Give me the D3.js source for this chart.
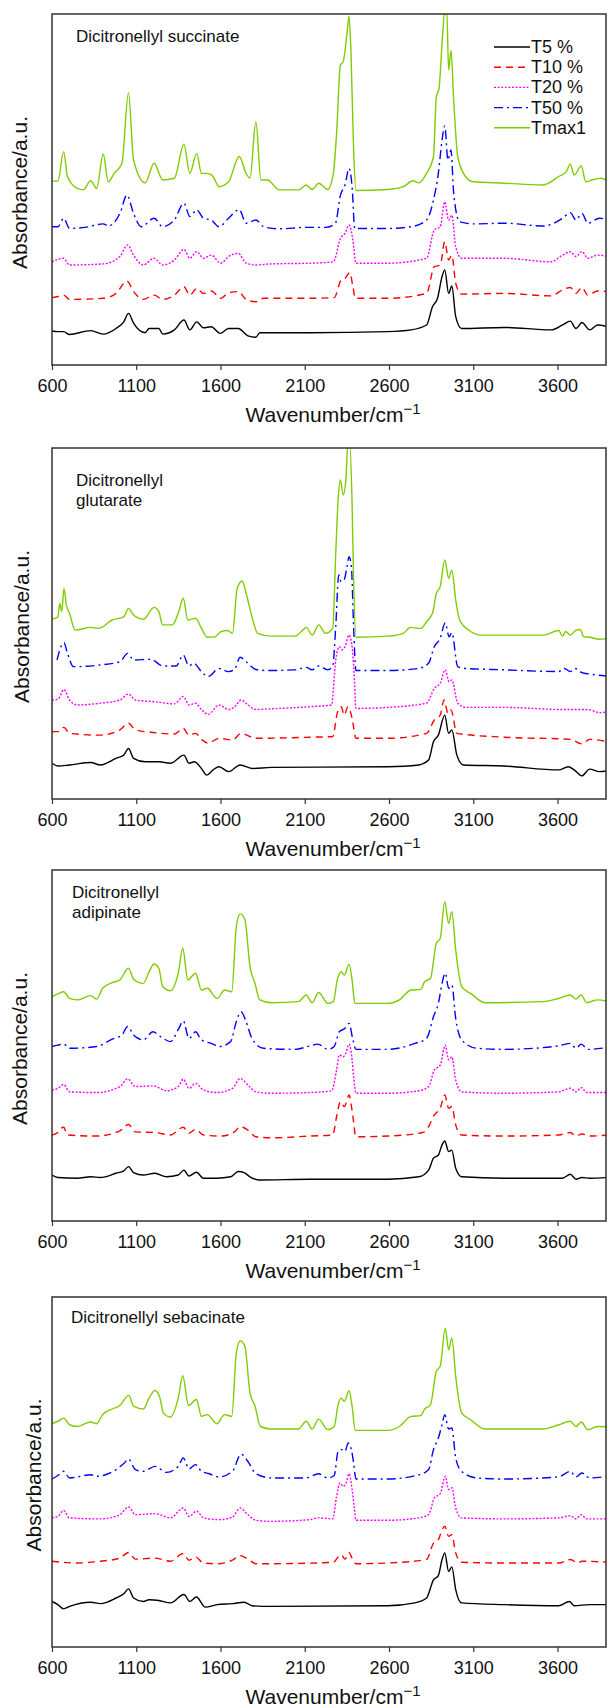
<!DOCTYPE html>
<html>
<head>
<meta charset="utf-8">
<script src="https://cdn.jsdelivr.net/npm/d3@7"></script>
<style>
  body { margin: 0; background: #fff; }
  svg { display: block; font-family: "Liberation Sans", Arial, sans-serif; }
</style>
</head>
<body>
<div id="chart"></div>
<script>
let WIDTH = 608
let HEIGHT = 1707

// categories and labels
let seriesNames = ['T5 %', 'T10 %', 'T20 %', 'T50 %', 'Tmax1']
let panelNames = [
    ['Dicitronellyl succinate'],
    ['Dicitronellyl', 'glutarate'],
    ['Dicitronellyl', 'adipinate'],
    ['Dicitronellyl sebacinate']
]
let xTicks = [600, 1100, 1600, 2100, 2600, 3100, 3600]

// spectra: [wavenumber, absorbance (a.u., offset)]
let succT5 = [[600,9.7],[635,9.5],[669,9.5],[704,8.7],[830,9.8],[904,8.8],[980,10.4],[1026,12.3],[1054,14.7],[1084,11.9],[1153,9.2],[1176,10.4],[1234,10.4],[1257,8.8],[1326,10],[1383,12.8],[1418,10],[1459,12.3],[1499,10.6],[1545,10.9],[1598,9],[1648,10.4],[1706,10.4],[1763,8.3],[1810,7.9],[1833,9.2],[2132,9.2],[2593,9.5],[2731,10],[2823,11.4],[2858,16.6],[2888,19],[2915,25.2],[2931,27.1],[2954,20.4],[2973,22.5],[2996,13.8],[3031,10.4],[3284,10.7],[3561,10],[3630,11.4],[3676,12.5],[3710,10.4],[3745,12.1],[3791,10],[3838,11.4],[3902,10.9]]
let succT10 = [[600,19.2],[635,19.5],[669,19.9],[704,18.7],[904,19],[980,20.4],[1045,23.9],[1084,20.9],[1142,18.7],[1206,19.9],[1257,18.7],[1326,19.9],[1383,22.3],[1418,19.9],[1459,21.8],[1499,20.4],[1545,21.1],[1602,19],[1648,20.6],[1706,20.9],[1752,18.7],[1810,18],[1856,19],[2132,19],[2275,19.2],[2316,24.2],[2339,24.7],[2367,26.3],[2386,22.3],[2400,19],[2593,19],[2823,20.4],[2869,28],[2904,28.5],[2931,35.1],[2954,29.9],[2973,31.3],[2996,23.3],[3031,20.2],[3284,20.4],[3561,19.7],[3630,21.4],[3676,22.1],[3710,20.4],[3745,22.1],[3780,19.9],[3838,21.1],[3902,20.9]]
let succT20 = [[600,29.4],[669,30.4],[704,28.5],[904,28.8],[1003,30.9],[1049,34.2],[1084,31.3],[1142,28.5],[1206,30.4],[1257,28.5],[1326,29.9],[1383,32.9],[1418,30.4],[1459,32.3],[1499,30.4],[1545,31.3],[1602,29],[1648,30.9],[1706,31.8],[1752,29],[1810,28.5],[1902,28.8],[2132,29],[2270,29.4],[2312,36.1],[2339,37.5],[2363,39.9],[2386,35.6],[2404,29],[2593,29],[2823,30.4],[2869,38.5],[2904,39.4],[2931,46.5],[2954,41.3],[2973,42.7],[2996,33.7],[3031,30.4],[3284,30.4],[3561,29.4],[3630,31.3],[3676,32.3],[3710,30.9],[3745,32.3],[3780,30.4],[3838,31.3],[3902,30.9]]
let succT50 = [[600,39.4],[635,39.4],[669,41.8],[704,38.9],[796,39.2],[904,40.2],[934,39.6],[1003,43.2],[1045,48.4],[1084,43.2],[1130,39.4],[1206,41.8],[1257,39.4],[1326,41.3],[1383,46.1],[1418,42.3],[1459,44.2],[1499,41.8],[1545,41.3],[1591,39.4],[1648,41.8],[1711,44.3],[1752,40.4],[1810,41.3],[1856,39.4],[1948,38.8],[2109,39.2],[2224,39.2],[2282,40.4],[2312,48.4],[2339,51.3],[2363,56],[2381,50.8],[2397,38.9],[2593,38.9],[2731,39.4],[2823,41.3],[2864,47],[2893,54.6],[2915,64.1],[2931,68.1],[2950,58.4],[2968,61.3],[2984,48.9],[3019,40.8],[3100,40.2],[3284,40.4],[3515,39.6],[3630,41.8],[3676,43.4],[3710,41.3],[3745,43.2],[3780,40.4],[3849,41.8],[3902,41.3]]
let succTmax = [[600,52.4],[635,52.4],[669,60.8],[692,53.7],[750,50.3],[785,49.9],[830,52.5],[865,50.3],[904,60.1],[934,52.2],[969,54.6],[1015,57.5],[1054,77.6],[1084,58.4],[1153,51.9],[1206,57.5],[1257,52.7],[1326,53.2],[1383,62.9],[1418,54.6],[1459,60.3],[1487,54.6],[1522,54.6],[1556,53.7],[1591,50.8],[1648,52.2],[1711,59.4],[1752,54.6],[1775,53.2],[1810,69.3],[1840,52.7],[1879,52.7],[1948,49.9],[2063,49.9],[2109,51.3],[2144,50],[2183,51.8],[2236,50],[2270,54.6],[2289,66],[2312,85.5],[2328,86.4],[2351,94.5],[2363,99.4],[2374,89.7],[2390,61.3],[2404,49.7],[2593,50],[2685,50.8],[2743,52.5],[2777,51.9],[2823,54.6],[2864,59.4],[2881,76.4],[2897,78.8],[2915,91.6],[2931,101],[2943,101],[2954,84],[2968,89.7],[2984,75.5],[3008,59.4],[3054,53.7],[3100,52.2],[3284,51.8],[3515,51.3],[3607,53.7],[3653,55.1],[3676,57.3],[3699,54.1],[3741,56.7],[3768,52.2],[3803,52.7],[3861,53.2],[3902,52.2]]

let glutT5 = [[600,10.2],[635,9.4],[704,9.7],[830,10.4],[888,9.7],[980,11.6],[1026,12.5],[1054,14.4],[1084,11.6],[1153,10.6],[1234,10.6],[1303,10.2],[1383,12.5],[1413,10.2],[1445,10.6],[1487,8.7],[1518,6.8],[1556,8.3],[1591,9.2],[1648,7.8],[1717,9.7],[1787,8.7],[1902,9],[2593,9.2],[2777,9.7],[2835,11.1],[2864,16.3],[2893,18.2],[2931,23.9],[2954,18.7],[2973,19.7],[3003,12.5],[3042,9.7],[3284,9.4],[3607,8.3],[3664,9.2],[3699,8.3],[3745,6.6],[3791,8.5],[3849,7.8],[3902,8.1]]
let glutT10 = [[600,19.2],[635,19.2],[671,20.4],[704,18.7],[888,18.2],[1003,19.7],[1054,21.6],[1095,19.7],[1211,18.9],[1326,18.5],[1379,20.1],[1413,18.2],[1452,18.7],[1487,17],[1527,15.9],[1591,17.3],[1671,16.8],[1722,18.7],[1810,17.3],[2132,17.6],[2266,17.8],[2293,24.4],[2316,26.3],[2335,23.9],[2356,26.3],[2381,23],[2404,17.3],[2593,17.3],[2823,18.7],[2869,22.5],[2904,23.9],[2927,28.2],[2950,24.4],[2968,25.4],[3003,18.7],[3284,17.6],[3676,17],[3745,15.7],[3791,17],[3902,16.3]]
let glutT20 = [[600,28.2],[635,28.4],[671,31.2],[704,28.2],[750,26.8],[888,27.3],[1003,28.2],[1054,29.9],[1095,28.2],[1211,27.7],[1326,27.1],[1379,29.2],[1413,26.8],[1452,27.3],[1487,25.5],[1527,24.1],[1591,26.8],[1648,25.5],[1683,26.2],[1722,28.2],[1763,26.8],[1810,25.5],[1902,25.7],[2132,26.3],[2259,26.8],[2284,39.6],[2305,43.4],[2321,42.5],[2339,43.4],[2363,46.7],[2381,43.4],[2393,35.8],[2404,25.8],[2593,26.1],[2823,27.3],[2869,31.5],[2904,33],[2934,36.8],[2957,33.4],[2973,33.9],[3008,27.3],[3054,26.1],[3284,26.1],[3630,25.5],[3745,25.5],[3791,25.4],[3849,24.6],[3902,24.9]]
let glutT50 = [[630,39.6],[653,43.4],[671,44.5],[692,41.5],[727,37.7],[888,38.2],[1003,39.1],[1049,41.5],[1084,39.6],[1188,39.8],[1257,37.9],[1337,37.9],[1379,41],[1413,37.9],[1441,38.7],[1487,36.3],[1527,34.9],[1591,37.2],[1648,36.3],[1683,36.9],[1717,40.4],[1752,39.1],[1810,36.9],[1879,36.6],[2040,36.8],[2109,37.5],[2144,36.8],[2183,37.9],[2236,36.8],[2266,37.9],[2284,49.1],[2302,63.8],[2316,61.9],[2335,62.6],[2351,66.2],[2363,69],[2377,66.2],[2390,49.1],[2404,36.6],[2593,36.6],[2777,37.2],[2835,38.7],[2869,43.4],[2904,45.8],[2934,50.2],[2957,46.2],[2973,47.4],[3008,37.7],[3054,37.2],[3284,36.8],[3607,36.3],[3641,37.2],[3676,36.3],[3704,37.2],[3745,36],[3791,35.6],[3902,35]]
let glutTmax = [[600,51.3],[635,51.8],[646,55.7],[658,53.4],[671,60],[685,55.3],[704,52.9],[738,48.1],[830,48.9],[876,48.6],[957,51],[1026,51.9],[1054,54.3],[1084,52.4],[1142,51.2],[1206,54.6],[1234,53.4],[1257,49.6],[1314,49.6],[1349,52.9],[1379,57.2],[1406,51],[1452,51.5],[1487,48.6],[1522,46.1],[1568,46.2],[1602,47.7],[1644,48],[1671,47.2],[1699,60],[1729,62.1],[1752,58.6],[1787,51.9],[1821,47.2],[1902,46.4],[2040,46.4],[2086,48],[2109,48.9],[2144,46.7],[2183,49.6],[2224,47.2],[2266,48.6],[2284,70],[2298,85.2],[2312,90.9],[2328,86.6],[2344,90.9],[2356,101],[2367,101],[2381,84.2],[2390,62.4],[2404,46.1],[2593,46.4],[2685,47.2],[2727,48.9],[2789,48.6],[2823,50.5],[2858,52.9],[2881,58.6],[2904,60.5],[2931,68.1],[2954,62.9],[2973,65.2],[2996,56.7],[3019,51],[3077,48],[3146,46.7],[3515,46.7],[3607,48],[3630,46.4],[3649,47.7],[3676,46.7],[3710,48.1],[3734,48.3],[3757,46.2],[3791,46.1],[3849,45.5],[3902,45.8]]

let adipT5 = [[600,13.1],[635,12.4],[750,12.2],[830,12.6],[888,12.4],[980,13.6],[1026,14.3],[1054,15.5],[1084,13.8],[1142,13.1],[1211,13.6],[1280,12.6],[1349,13.1],[1383,14.5],[1413,12.8],[1457,13.9],[1499,12.2],[1579,12.2],[1660,12.6],[1706,14.1],[1740,13.8],[1775,12.6],[1833,11.7],[2132,11.9],[2593,11.9],[2777,12.6],[2835,14.5],[2864,17.9],[2893,18.8],[2915,21.7],[2931,22.8],[2954,19.8],[2973,20.2],[2996,15],[3031,12.6],[3284,12.2],[3630,12.2],[3676,13.3],[3710,11.9],[3745,12.4],[3791,12.2],[3902,12.4]]
let adipT10 = [[600,24.5],[635,25.2],[653,26.4],[669,26.7],[692,24.5],[865,24.2],[1003,25.7],[1054,27.5],[1095,25.4],[1211,25.2],[1303,24.5],[1379,26.7],[1413,25],[1452,26.1],[1499,24.5],[1602,24.2],[1683,25.4],[1717,26.9],[1763,25.9],[1810,24],[1902,23.7],[2132,24.2],[2266,24.5],[2289,29.7],[2312,34],[2335,32.6],[2363,35.9],[2386,29.7],[2404,24],[2593,24.2],[2800,25.2],[2835,26.9],[2869,30.2],[2904,32.1],[2931,35.9],[2954,32.1],[2973,32.6],[2996,27.4],[3031,24.5],[3284,24.2],[3607,24.5],[3676,25.2],[3710,24.2],[3745,24.8],[3791,24.2],[3902,24.5]]
let adipT20 = [[600,37.3],[635,37.8],[669,38.9],[704,36.8],[865,36.6],[1003,38.3],[1049,40.5],[1095,38.3],[1199,38.5],[1280,37.1],[1349,38.3],[1379,40.4],[1413,37.8],[1452,39.2],[1499,37.3],[1579,36.6],[1671,37.8],[1717,40.6],[1763,38.7],[1810,36.8],[1902,36.4],[2132,36.6],[2259,37.1],[2289,43],[2305,47.3],[2328,46.8],[2344,47.8],[2363,50.4],[2381,45.9],[2390,41.1],[2404,36.4],[2593,36.4],[2777,37.1],[2835,38.3],[2869,43],[2904,44.4],[2934,50.1],[2954,45.9],[2973,46.8],[2996,40.2],[3031,36.8],[3284,36.4],[3607,36.8],[3676,37.8],[3710,36.8],[3741,38],[3773,36.6],[3902,36.6]]
let adipT50 = [[600,49.7],[635,50.1],[669,50.4],[704,49.2],[865,49.7],[957,51.8],[1015,53],[1049,55.4],[1084,53],[1142,51.6],[1199,53.9],[1245,52.5],[1303,51.1],[1353,54.9],[1379,57],[1413,52],[1452,53.9],[1487,51.6],[1545,50.6],[1591,49.7],[1660,51.1],[1694,56.8],[1722,59.6],[1752,56.8],[1787,52],[1856,49.2],[2040,48.9],[2132,49.9],[2178,50.4],[2236,48.9],[2275,49.7],[2305,53.9],[2339,54.9],[2363,56.3],[2386,51.6],[2404,48.9],[2593,48.9],[2754,50.6],[2823,52],[2864,58.2],[2893,62],[2915,67.7],[2934,70.6],[2954,66.3],[2973,67.2],[2996,57.7],[3031,51.6],[3123,49.2],[3284,48.9],[3607,49.9],[3676,50.6],[3710,49.2],[3741,50.4],[3780,48.9],[3902,49.5]]
let adipTmax = [[600,63.9],[635,64.7],[669,65.3],[704,63.4],[750,63],[830,64.2],[865,63.2],[900,66.3],[957,67.9],[1003,68.7],[1054,72],[1084,68.9],[1142,67.7],[1176,71],[1206,73.2],[1234,72],[1257,66.8],[1303,65.6],[1349,70.6],[1376,77.7],[1406,68.7],[1452,70.6],[1487,65.8],[1522,66.3],[1579,63.4],[1625,65.8],[1667,65.3],[1694,83.9],[1717,87.5],[1745,85.8],[1775,72.5],[1805,67.7],[1833,63],[1902,62.2],[2063,62.5],[2109,64.4],[2144,62.2],[2183,65.1],[2236,62],[2270,62.5],[2293,68.7],[2316,71],[2335,70.1],[2363,73.1],[2381,68.7],[2397,62],[2593,62],[2662,63],[2731,65.8],[2789,66],[2812,68.2],[2846,69.1],[2881,79.1],[2904,80.5],[2931,91],[2954,84.8],[2973,88.1],[2996,77.2],[3031,66.8],[3088,64.7],[3169,62.2],[3515,62.5],[3607,63.4],[3676,64.4],[3710,63.2],[3741,64.4],[3773,62.2],[3838,63],[3902,62.5]]

let sebT5 = [[600,13],[635,12.1],[669,10.9],[704,11.6],[830,12.8],[888,12.4],[980,14],[1026,15.2],[1054,16.6],[1084,14],[1142,13],[1176,13.5],[1234,13.3],[1303,12.6],[1383,15],[1418,13],[1457,14.3],[1510,11.4],[1579,12.1],[1671,12.4],[1740,12.8],[1787,11.8],[1902,11.6],[2593,11.8],[2754,12.6],[2823,14],[2864,19.2],[2893,20.4],[2915,25],[2931,26.9],[2954,21.6],[2973,22.9],[2996,16.4],[3031,12.6],[3284,12.1],[3607,11.8],[3671,13],[3699,11.8],[3791,12.1],[3902,12.1]]
let sebT10 = [[600,24.5],[750,24],[888,24.5],[1003,25.4],[1054,27],[1095,25.1],[1211,25.4],[1303,24.5],[1379,26.7],[1413,24.8],[1452,25.7],[1499,24],[1591,23.8],[1671,24.8],[1717,26.1],[1763,25.1],[1810,23.8],[1902,23.8],[2270,24.2],[2298,25.7],[2316,26.4],[2339,25.1],[2363,27],[2381,25.4],[2404,23.8],[2593,24],[2823,25],[2864,29.7],[2893,30.7],[2915,33.5],[2931,34.5],[2954,31.6],[2973,32.1],[2996,26.9],[3031,24.2],[3284,24],[3607,24],[3676,25],[3722,24],[3745,24.5],[3902,24.2]]
let sebT20 = [[600,36.9],[635,37.3],[669,39],[704,36.9],[888,36.6],[1003,37.8],[1054,40],[1095,37.8],[1211,38.1],[1303,36.9],[1379,39.7],[1413,37.3],[1459,38.8],[1499,36.9],[1591,36.4],[1671,37.1],[1717,39.7],[1763,37.8],[1810,36.2],[1902,35.9],[2132,36.4],[2178,36.9],[2266,36.6],[2289,43],[2309,46.9],[2328,45.9],[2346,46.9],[2363,49.5],[2381,45],[2393,40.2],[2404,36.2],[2593,36.2],[2777,36.9],[2835,37.8],[2869,42.6],[2904,43.8],[2934,48.8],[2954,45],[2973,45.5],[2996,39.7],[3031,36.9],[3284,36.6],[3607,36.9],[3676,37.5],[3710,36.6],[3741,37.8],[3773,36.6],[3902,36.6]]
let sebT50 = [[600,48],[635,49],[669,50.2],[704,48.3],[830,49.2],[865,48.8],[980,50.7],[1026,52.4],[1054,53.7],[1095,50.7],[1142,50.2],[1211,51.6],[1280,49.9],[1349,51.6],[1379,54],[1413,50.9],[1452,52.1],[1487,50.2],[1533,49.5],[1591,48.6],[1671,50.2],[1722,55.1],[1763,53],[1810,49.5],[1902,48.3],[2109,48.3],[2183,49.5],[2236,48.3],[2275,49],[2298,55.9],[2321,56.4],[2339,55.9],[2358,58.3],[2377,56.4],[2390,52.6],[2404,48],[2593,48],[2777,49.2],[2835,50.7],[2864,56.4],[2893,59.7],[2915,63.5],[2931,66.4],[2954,62.3],[2973,62.6],[2996,54],[3031,50.2],[3123,48.3],[3284,48],[3607,48.6],[3676,50.2],[3710,48.6],[3745,49.7],[3791,48.3],[3902,48.8]]
let sebTmax = [[600,63.8],[635,64.5],[669,65.4],[704,63.5],[750,63],[830,64.3],[865,63.8],[900,66.4],[957,68],[1003,69],[1056,71.9],[1084,68.8],[1142,68],[1176,71.1],[1211,73.3],[1238,71.6],[1261,66.9],[1303,65.7],[1349,71.1],[1376,77.5],[1410,69],[1457,70.7],[1487,65.9],[1522,66.4],[1579,63.8],[1625,66.4],[1667,65.9],[1694,84],[1717,87.5],[1745,85.9],[1775,72.6],[1805,68.8],[1837,63],[1902,62.3],[2063,62.3],[2109,64.5],[2144,62.3],[2183,65.1],[2236,62.1],[2275,63],[2298,69.2],[2316,71.1],[2335,70.2],[2363,73.2],[2381,68.8],[2400,61.9],[2593,61.9],[2662,63],[2731,65.9],[2789,66.1],[2812,68],[2846,69.2],[2881,78.8],[2904,80.2],[2934,91.1],[2954,84.9],[2973,88.3],[2996,77.3],[3031,66.9],[3088,64.8],[3169,62.3],[3515,62.3],[3607,63.5],[3676,64.5],[3710,63],[3741,64.3],[3780,62.1],[3838,63],[3902,62.9]]

let panelSeries = [
    [succT5, succT10, succT20, succT50, succTmax],
    [glutT5, glutT10, glutT20, glutT50, glutTmax],
    [adipT5, adipT10, adipT20, adipT50, adipTmax],
    [sebT5, sebT10, sebT20, sebT50, sebTmax]
]

// styling per series
let colors = ['#000000', '#ff0000', '#ff00ff', '#0000ff', '#80cc00']
let dashes = [null, '7,5', '2,1.6', '9,4,2,4', null]

// panel frames (top, bottom) and label spots
let frames = [[14, 365], [448, 799], [870, 1221], [1297, 1647]]
let labelX = [76, 76, 72, 71]
let labelY = [42, 486, 898, 1323]
let yLabelX = [19, 21, 19, 33]
let LEFT = 52
let RIGHT = 606

let svg = d3.select('#chart')
    .append('svg')
    .attr('width', WIDTH)
    .attr('height', HEIGHT)

let x = d3.scaleLinear()
    .domain([600, 3888])
    .range([LEFT, RIGHT])

panelSeries.forEach((series, p) => {
    let [top, bottom] = frames[p]
    let y = d3.scaleLinear()
        .domain([0, 100])
        .range([bottom, top])

    let g = svg.append('g')

    svg.append('clipPath')
        .attr('id', `clip${p}`)
        .append('rect')
        .attr('x', LEFT)
        .attr('y', top)
        .attr('width', RIGHT - LEFT)
        .attr('height', bottom - top)

    let line = d3.line()
        .x(d => x(d[0]))
        .y(d => y(d[1]))
        .curve(d3.curveMonotoneX)

    g.append('g')
        .attr('clip-path', `url(#clip${p})`)
        .selectAll('path')
        .data(series)
        .join('path')
        .attr('d', d => line(d))
        .attr('fill', 'none')
        .attr('stroke', (d, i) => colors[i])
        .attr('stroke-width', 1.4)
        .attr('stroke-dasharray', (d, i) => dashes[i])
        .attr('stroke-linejoin', 'round')

    // frame
    g.append('rect')
        .attr('x', LEFT)
        .attr('y', top)
        .attr('width', RIGHT - LEFT)
        .attr('height', bottom - top)
        .attr('fill', 'none')
        .attr('stroke', '#333')
        .attr('stroke-width', 1.5)

    let axis = g.append('g')
        .attr('transform', `translate(0,${bottom})`)
        .call(d3.axisBottom(x)
            .tickValues(xTicks)
            .tickFormat(d3.format('d'))
            .tickSize(5)
            .tickSizeOuter(0)
            .tickPadding(9))
    axis.select('.domain').remove()
    axis.selectAll('line').attr('stroke', '#333').attr('stroke-width', 1.2)
    axis.selectAll('text')
        .attr('font-size', 18)
        .attr('font-family', '"Liberation Sans", Arial, sans-serif')
        .attr('fill', '#111')

    let xl = g.append('text')
        .attr('x', (LEFT + RIGHT) / 2 + 4)
        .attr('y', bottom + 57)
        .attr('text-anchor', 'middle')
        .attr('font-size', 21)
        .attr('fill', '#111')
    xl.append('tspan').text('Wavenumber/cm')
    xl.append('tspan').text('\u22121').attr('font-size', 15).attr('dy', -8)

    g.append('text')
        .attr('transform', `translate(${yLabelX[p]},${(top + bottom) / 2 + 3}) rotate(-90)`)
        .attr('text-anchor', 'middle')
        .attr('dominant-baseline', 'central')
        .attr('font-size', 21)
        .attr('fill', '#111')
        .text('Absorbance/a.u.')

    g.append('text')
        .attr('x', labelX[p])
        .attr('y', labelY[p])
        .attr('font-size', 17)
        .attr('fill', '#111')
        .selectAll('tspan')
        .data(panelNames[p])
        .join('tspan')
        .attr('x', labelX[p])
        .attr('dy', (d, i) => i === 0 ? 0 : 20)
        .text(d => d)
})

// legend, top panel only
let legend = svg.append('g')
    .selectAll('g')
    .data(seriesNames)
    .join('g')
    .attr('transform', (d, i) => `translate(494,${47 + i * 20.2})`)
legend.append('line')
    .attr('x1', 0)
    .attr('x2', 36)
    .attr('stroke', (d, i) => colors[i])
    .attr('stroke-width', 1.4)
    .attr('stroke-dasharray', (d, i) => dashes[i])
legend.append('text')
    .attr('x', 37)
    .attr('dominant-baseline', 'central')
    .attr('font-size', 18)
    .attr('fill', '#111')
    .text(d => d)
</script>
</body>
</html>
